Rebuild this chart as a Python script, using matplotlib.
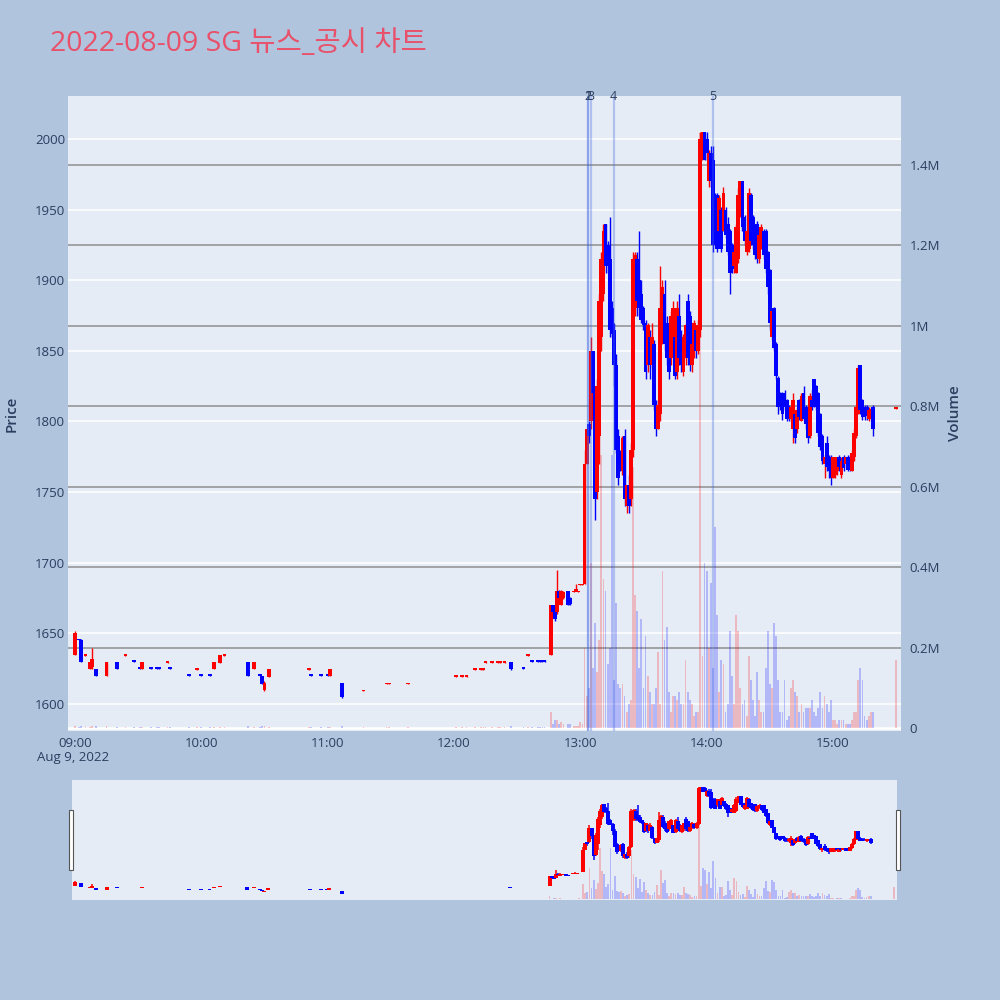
import matplotlib
matplotlib.use("Agg")
import matplotlib.pyplot as plt
from matplotlib.patches import Rectangle
from matplotlib.ticker import FuncFormatter, FixedLocator

plt.rcParams['font.family'] = ['Open Sans', 'Noto Sans CJK KR', 'DejaVu Sans']

title_text = "2022-08-09 SG 뉴스_공시 차트"

# ---------------- data (minutes after 09:00) ----------------
morning_minutes = [0, 2, 3, 5, 7, 8, 10, 15, 20, 24, 28, 31, 32, 36, 39, 40, 44, 45, 54, 58,
                   60, 64, 66, 69, 71, 82, 85, 88, 89, 90, 92, 111, 112, 117, 120, 121, 127, 137, 148, 149,
                   158, 181, 184, 186, 190, 193, 194, 195, 198, 201, 202, 204, 207, 213, 215, 217, 220, 221, 222, 223]
morning_open = [1635, 1646, 1645, 1634, 1625, 1626, 1625, 1620, 1630, 1634, 1631, 1626, 1625, 1626, 1626, 1626, 1629, 1626, 1621, 1624,
                1621, 1621, 1625, 1629, 1634, 1630, 1625, 1621, 1620, 1610, 1619, 1624, 1621, 1621, 1621, 1620, 1615, 1609, 1614, 1614,
                1614, 1619, 1619, 1619, 1624, 1624, 1624, 1629, 1629, 1629, 1629, 1629, 1630, 1626, 1634, 1631, 1631, 1631, 1631, 1631]
morning_high = [1652, 1646, 1646, 1635, 1630, 1640, 1625, 1630, 1630, 1635, 1631, 1626, 1630, 1626, 1626, 1626, 1630, 1626, 1621, 1625,
                1621, 1621, 1630, 1635, 1635, 1630, 1630, 1621, 1620, 1616, 1625, 1625, 1621, 1621, 1621, 1625, 1615, 1610, 1615, 1615,
                1615, 1620, 1620, 1620, 1625, 1625, 1625, 1630, 1630, 1630, 1630, 1630, 1630, 1626, 1635, 1631, 1631, 1631, 1631, 1631]
morning_low = [1635, 1645, 1630, 1634, 1625, 1625, 1620, 1620, 1625, 1634, 1630, 1625, 1625, 1625, 1625, 1625, 1629, 1625, 1620, 1624,
               1620, 1620, 1625, 1629, 1634, 1620, 1625, 1620, 1614, 1609, 1619, 1624, 1620, 1620, 1620, 1620, 1604, 1609, 1614, 1614,
               1614, 1619, 1619, 1619, 1624, 1624, 1624, 1629, 1629, 1629, 1629, 1629, 1624, 1625, 1634, 1630, 1630, 1630, 1630, 1630]
morning_close = [1650, 1645, 1630, 1635, 1630, 1632, 1620, 1630, 1625, 1635, 1630, 1625, 1630, 1625, 1625, 1625, 1630, 1625, 1620, 1625,
                 1620, 1620, 1630, 1635, 1635, 1620, 1630, 1620, 1614, 1615, 1625, 1625, 1620, 1620, 1620, 1625, 1605, 1610, 1615, 1615,
                 1615, 1620, 1620, 1620, 1625, 1625, 1625, 1630, 1630, 1630, 1630, 1630, 1625, 1625, 1635, 1630, 1630, 1630, 1630, 1630]
morning_volume = [0.006, 0.002, 0.004, 0.002, 0.003, 0.004, 0.004, 0.004, 0.003, 0.002, 0.002, 0.002, 0.003, 0.002, 0.002, 0.002, 0.002, 0.002, 0.002, 0.002,
                  0.002, 0.002, 0.003, 0.003, 0.002, 0.004, 0.003, 0.002, 0.004, 0.004, 0.003, 0.002, 0.002, 0.002, 0.002, 0.003, 0.006, 0.002, 0.002, 0.002,
                  0.002, 0.002, 0.002, 0.002, 0.002, 0.002, 0.002, 0.002, 0.002, 0.002, 0.002, 0.002, 0.004, 0.002, 0.003, 0.002, 0.002, 0.002, 0.002, 0.002]

pre_minutes = [226, 227, 228, 229, 230, 231, 232, 234, 235, 237, 238, 239, 240, 241]
pre_open = [1635, 1670, 1665, 1665, 1680, 1670, 1675, 1680, 1675, 1679, 1680, 1679, 1684, 1684]
pre_high = [1670, 1670, 1666, 1695, 1681, 1681, 1680, 1680, 1676, 1680, 1685, 1680, 1685, 1685]
pre_low = [1635, 1664, 1659, 1664, 1674, 1670, 1674, 1670, 1670, 1679, 1680, 1679, 1684, 1684]
pre_close = [1670, 1665, 1660, 1680, 1675, 1680, 1679, 1670, 1671, 1680, 1681, 1680, 1685, 1685]
pre_volume = [0.04, 0.01, 0.02, 0.02, 0.01, 0.015, 0.01, 0.01, 0.01, 0.005, 0.005, 0.005, 0.015, 0.01]

# consecutive minutes 13:02 .. 15:19, then the closing auction at 15:30
pm_minutes = list(range(242, 380)) + [390]
pm_open = [1685, 1770, 1798, 1800, 1850, 1820, 1750, 1790, 1860, 1890,
           1940, 1925, 1915, 1880, 1865, 1840, 1790, 1770, 1765, 1790,
           1740, 1755, 1745, 1780, 1880, 1915, 1900, 1890, 1880, 1870,
           1840, 1860, 1840, 1855, 1812, 1795, 1805, 1860, 1890, 1870,
           1860, 1845, 1850, 1860, 1835, 1875, 1860, 1835, 1845, 1885,
           1875, 1840, 1855, 1865, 1850, 1865, 1990, 2005, 2000, 1970,
           1990, 1985, 1960, 1960, 1935, 1950, 1935, 1950, 1940, 1935,
           1925, 1910, 1905, 1915, 1945, 1970, 1945, 1920, 1922, 1960,
           1945, 1935, 1940, 1915, 1925, 1935, 1935, 1920, 1907, 1860,
           1880, 1855, 1831, 1820, 1820, 1820, 1815, 1810, 1802, 1795,
           1805, 1795, 1815, 1800, 1820, 1810, 1805, 1790, 1815, 1830,
           1825, 1820, 1805, 1790, 1770, 1785, 1775, 1775, 1760, 1762,
           1765, 1775, 1762, 1775, 1770, 1775, 1775, 1765, 1775, 1790,
           1805, 1840, 1815, 1810, 1810, 1802, 1802, 1810, 1809]
pm_high = [1780, 1795, 1800, 1860, 1850, 1825, 1830, 1890, 1920, 1940,
           1940, 1928, 1945, 1885, 1870, 1848, 1795, 1780, 1790, 1795,
           1755, 1762, 1785, 1920, 1920, 1920, 1935, 1900, 1882, 1872,
           1870, 1865, 1870, 1858, 1815, 1815, 1910, 1900, 1900, 1875,
           1862, 1878, 1885, 1862, 1885, 1890, 1865, 1862, 1870, 1890,
           1878, 1860, 1872, 1868, 1872, 2005, 2005, 2005, 2005, 1992,
           1995, 1995, 1962, 1962, 1960, 1952, 1966, 1952, 1945, 1936,
           1926, 1925, 1940, 1965, 1970, 1970, 1946, 1935, 1965, 1962,
           1946, 1936, 1942, 1935, 1940, 1936, 1936, 1921, 1908, 1880,
           1881, 1856, 1832, 1821, 1821, 1822, 1816, 1812, 1812, 1820,
           1806, 1810, 1816, 1820, 1825, 1812, 1806, 1820, 1822, 1830,
           1826, 1821, 1806, 1791, 1776, 1790, 1776, 1776, 1775, 1775,
           1775, 1776, 1775, 1776, 1775, 1776, 1776, 1780, 1795, 1812,
           1840, 1840, 1816, 1812, 1812, 1810, 1810, 1812, 1810]
pm_low = [1685, 1770, 1785, 1795, 1810, 1730, 1745, 1770, 1850, 1885,
          1905, 1905, 1860, 1860, 1825, 1778, 1755, 1765, 1762, 1740,
          1735, 1735, 1740, 1775, 1875, 1875, 1875, 1870, 1865, 1830,
          1835, 1830, 1838, 1808, 1790, 1795, 1800, 1855, 1850, 1840,
          1830, 1840, 1848, 1830, 1830, 1840, 1835, 1832, 1840, 1840,
          1836, 1835, 1845, 1845, 1848, 1860, 1985, 1985, 1985, 1966,
          1966, 1920, 1925, 1920, 1930, 1920, 1935, 1930, 1918, 1890,
          1905, 1905, 1905, 1912, 1945, 1935, 1925, 1918, 1920, 1925,
          1922, 1915, 1912, 1912, 1922, 1915, 1905, 1890, 1865, 1858,
          1850, 1830, 1805, 1808, 1801, 1808, 1800, 1800, 1800, 1785,
          1785, 1792, 1801, 1800, 1800, 1795, 1785, 1788, 1808, 1810,
          1808, 1790, 1780, 1770, 1760, 1765, 1760, 1755, 1760, 1760,
          1762, 1765, 1760, 1765, 1768, 1765, 1765, 1765, 1772, 1788,
          1805, 1805, 1801, 1801, 1801, 1800, 1801, 1790, 1809]
pm_close = [1770, 1795, 1790, 1850, 1820, 1745, 1825, 1885, 1915, 1935,
            1910, 1910, 1865, 1862, 1840, 1780, 1760, 1768, 1788, 1745,
            1755, 1740, 1780, 1915, 1918, 1885, 1880, 1872, 1868, 1835,
            1868, 1840, 1860, 1812, 1795, 1812, 1880, 1895, 1855, 1845,
            1835, 1875, 1880, 1832, 1880, 1845, 1840, 1860, 1868, 1845,
            1840, 1855, 1870, 1850, 1868, 2000, 2005, 1985, 1990, 1990,
            1970, 1925, 1935, 1922, 1958, 1922, 1962, 1932, 1920, 1905,
            1908, 1920, 1938, 1960, 1970, 1938, 1928, 1935, 1962, 1928,
            1925, 1918, 1915, 1932, 1938, 1918, 1908, 1895, 1870, 1878,
            1852, 1832, 1810, 1810, 1805, 1810, 1802, 1805, 1810, 1815,
            1788, 1808, 1803, 1818, 1802, 1798, 1788, 1818, 1810, 1812,
            1810, 1792, 1782, 1772, 1775, 1768, 1765, 1760, 1775, 1772,
            1775, 1768, 1772, 1767, 1775, 1766, 1768, 1778, 1792, 1810,
            1838, 1808, 1803, 1803, 1804, 1808, 1809, 1795, 1810]
pm_volume = [0.20, 0.08, 0.10, 0.41, 0.15, 0.26, 0.14, 0.22, 0.68, 0.37,
             0.34, 0.16, 0.20, 0.68, 0.12, 0.31, 0.11, 0.10, 0.11, 0.08,
             0.04, 0.06, 0.07, 0.65, 0.33, 0.29, 0.15, 0.27, 0.10, 0.23,
             0.13, 0.09, 0.06, 0.06, 0.10, 0.19, 0.06, 0.39, 0.22, 0.25,
             0.09, 0.04, 0.08, 0.08, 0.07, 0.09, 0.06, 0.06, 0.17, 0.09,
             0.07, 0.06, 0.03, 0.04, 0.04, 1.48, 0.18, 0.41, 0.39, 0.20,
             0.36, 0.15, 0.50, 0.28, 0.09, 0.17, 0.16, 0.04, 0.06, 0.24,
             0.13, 0.06, 0.28, 0.24, 0.10, 0.06, 0.07, 0.03, 0.18, 0.12,
             0.07, 0.03, 0.14, 0.07, 0.04, 0.04, 0.15, 0.24, 0.11, 0.10,
             0.26, 0.23, 0.12, 0.04, 0.04, 0.12, 0.02, 0.03, 0.10, 0.12,
             0.09, 0.08, 0.04, 0.06, 0.04, 0.05, 0.05, 0.05, 0.07, 0.04,
             0.03, 0.05, 0.09, 0.05, 0.08, 0.06, 0.04, 0.07, 0.02, 0.02,
             0.01, 0.02, 0.02, 0.02, 0.01, 0.01, 0.01, 0.02, 0.04, 0.04,
             0.12, 0.15, 0.12, 0.03, 0.02, 0.03, 0.04, 0.04, 0.17]

event_labels = ['1', '2', '3', '4', '5']
event_minutes = [243.7, 243.7, 245.0, 255.9, 302.9]

hour_ticks = [0, 60, 120, 180, 240, 300, 360]
hour_labels = ['09:00', '10:00', '11:00', '12:00', '13:00', '14:00', '15:00']
price_ticks = [1600, 1650, 1700, 1750, 1800, 1850, 1900, 1950, 2000]
volume_ticks = [0, 0.2, 0.4, 0.6, 0.8, 1.0, 1.2, 1.4]

minutes = morning_minutes + pre_minutes + pm_minutes
opens = morning_open + pre_open + pm_open
highs = morning_high + pre_high + pm_high
lows = morning_low + pre_low + pm_low
closes = morning_close + pre_close + pm_close
volumes = morning_volume + pre_volume + pm_volume

# ---------------- style ----------------
BG = '#b0c4de'
PLOT_BG = '#e5ecf6'
TXT = '#2a3f5f'
UP = '#ff0000'
DOWN = '#0000ff'
PRICE_LIM = (1580.9, 2030.4)
VOL_LIM = (-0.0075, 1.5717)
X_MAIN = (-3.3, 392.3)
X_SLIDER = (-1.5, 391.5)

colors = [UP if c >= o else DOWN for o, c in zip(opens, closes)]
bottoms = [min(o, c) for o, c in zip(opens, closes)]
heights = [max(abs(c - o), 1.2) for o, c in zip(opens, closes)]


def draw_candles(ax, body_w, wick_lw):
    ax.vlines(minutes, lows, highs, colors=colors, linewidth=wick_lw, zorder=3)
    ax.bar(minutes, heights, bottom=bottoms, width=body_w, color=colors,
           linewidth=0, zorder=4)


def draw_volume(ax, w):
    ax.bar(minutes, volumes, width=w, color=colors, alpha=0.22, linewidth=0, zorder=2)


fig = plt.figure(figsize=(10, 10), dpi=100, facecolor=BG)

rect_main = [0.068, 0.269, 0.833, 0.635]
# background axes: price grid
ax_bg = fig.add_axes(rect_main)
ax_bg.set_facecolor(PLOT_BG)
ax_bg.set_xlim(*X_MAIN)
ax_bg.set_ylim(*PRICE_LIM)
for p in price_ticks:
    ax_bg.axhline(p, color='white', lw=1.1, zorder=0)
ax_bg.set_yticks(price_ticks)
ax_bg.set_yticklabels([str(p) for p in price_ticks])
ax_bg.set_xticks(hour_ticks)
ax_bg.set_xticklabels(hour_labels)
ax_bg.tick_params(axis='both', length=0, labelsize=9.5, labelcolor=TXT)
ax_bg.tick_params(axis='y', pad=2)
ax_bg.tick_params(axis='x', pad=4)
for s in ax_bg.spines.values():
    s.set_visible(False)
ax_bg.set_ylabel('Price', fontsize=11, color=TXT, fontweight='semibold', labelpad=12)

# volume axes
ax_v = ax_bg.twinx()
ax_v.set_ylim(*VOL_LIM)
ax_v.set_xlim(*X_MAIN)
for v in volume_ticks[1:]:
    ax_v.axhline(v, color='#8f8f8f', lw=1.1, zorder=1)
ax_v.axhline(0, color='white', lw=1.8, zorder=1)
draw_volume(ax_v, 0.85)
ax_v.yaxis.set_major_locator(FixedLocator(volume_ticks))
ax_v.yaxis.set_major_formatter(FuncFormatter(lambda v, _: '0' if v == 0 else f'{v:g}M'))
ax_v.tick_params(axis='y', length=0, labelsize=9.5, labelcolor=TXT, pad=6)
for s in ax_v.spines.values():
    s.set_visible(False)
ax_v.set_ylabel('Volume', fontsize=11, color=TXT, fontweight='semibold', labelpad=6)

# candle axes on top
ax_c = fig.add_axes(rect_main, sharex=ax_bg, sharey=ax_bg)
ax_c.patch.set_visible(False)
ax_c.axis('off')
draw_candles(ax_c, 1.8, 1.0)
for m in event_minutes:
    ax_c.axvline(m, color='#4169e1', alpha=0.33, lw=1.6, zorder=5)
for lab, m in zip(event_labels, event_minutes):
    ax_c.text(m, PRICE_LIM[1], lab, ha='center', va='center', fontsize=9, color=TXT,
              zorder=6, clip_on=False)

# ---------------- range slider ----------------
rect_s = [0.072, 0.100, 0.825, 0.120]
ax_s = fig.add_axes(rect_s)
ax_s.set_facecolor(PLOT_BG)
ax_s.set_xlim(*X_SLIDER)
ax_s.set_ylim(*PRICE_LIM)
ax_s.axis('off')
ax_s.add_patch(Rectangle((0, 0), 1, 1, transform=ax_s.transAxes, facecolor=PLOT_BG,
                         edgecolor='none', zorder=0))
ax_sv = fig.add_axes(rect_s, sharex=ax_s)
ax_sv.patch.set_visible(False)
ax_sv.set_ylim(*VOL_LIM)
ax_sv.axis('off')
draw_volume(ax_sv, 0.85)
ax_sc = fig.add_axes(rect_s, sharex=ax_s, sharey=ax_s)
ax_sc.patch.set_visible(False)
ax_sc.axis('off')
draw_candles(ax_sc, 1.9, 1.1)

# slider handles
for xh in (0.0685, 0.8955):
    fig.patches.append(Rectangle((xh, 0.130), 0.0045, 0.060, transform=fig.transFigure,
                                 facecolor='white', edgecolor='#555555', lw=0.8, zorder=10))

# ---------------- titles ----------------
fig.text(0.05, 0.956, title_text, fontsize=20.5, color='#e9506a', ha='left', va='center')
fig.text(0.073, 0.242, 'Aug 9, 2022', fontsize=9.5, color=TXT, ha='center', va='center')

fig.savefig('out.png', dpi=100, facecolor=BG)
